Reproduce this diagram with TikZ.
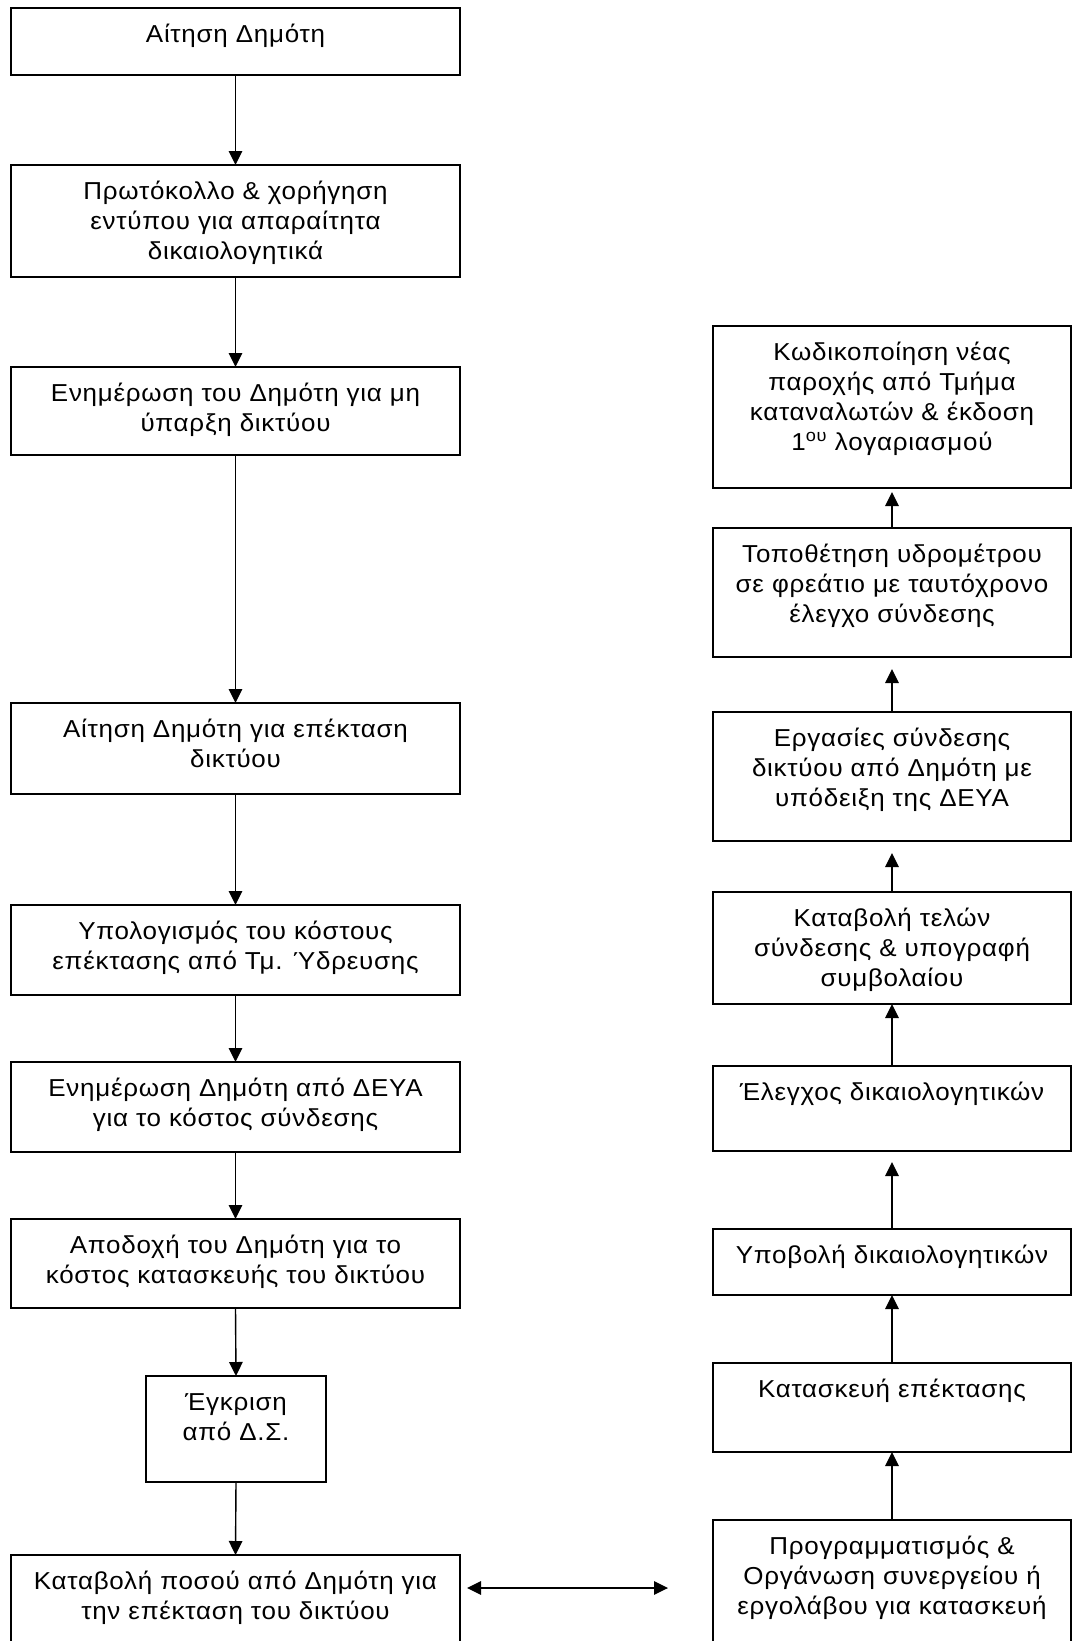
\documentclass[tikz,border=0pt]{standalone}
\usepackage{fontspec}
\setmainfont{Liberation Sans}[FakeStretch=1.06, LetterSpace=3]
\usetikzlibrary{arrows.meta}
\newcommand{\fl}{\rule{0pt}{21pt}}
\newcommand{\mkbox}[6]{%
  \node[boxst, anchor=north west, minimum width=#4pt, minimum height=#5pt] (#1) at (#2,#3) {};
  \node[txtst, anchor=north] (#1t) at ([yshift=-13.4pt]#1.north) {\fl #6};
}
\begin{document}
\begin{tikzpicture}[x=1pt, y=-1pt,
  boxst/.style={draw=black, line width=1.7pt, inner sep=0pt, outer sep=0pt, fill=white},
  txtst/.style={inner sep=0pt, outer sep=0pt, align=center, font=\fontsize{24.5}{30}\selectfont},
  arr/.style={line width=1.4pt, -{Triangle[length=14pt, width=13.5pt]}},
  arrtwo/.style={line width=1.4pt, {Triangle[length=14pt, width=13.5pt]}-{Triangle[length=14pt, width=13.5pt]}}]
\useasboundingbox (0,0) rectangle (1072,1641);
\clip (0,0) rectangle (1072,1641);
\fill[white] (0,0) rectangle (1072,1641);
% left column
\mkbox{b1}{11}{8}{449}{67}{Αίτηση Δημότη}
\mkbox{b2}{11}{165}{449}{112}{Πρωτόκολλο \& χορήγηση\\εντύπου για απαραίτητα\\δικαιολογητικά}
\mkbox{b3}{11}{367}{449}{88}{Ενημέρωση του Δημότη για μη\\ύπαρξη δικτύου}
\mkbox{b4}{11}{703}{449}{91}{Αίτηση Δημότη για επέκταση\\δικτύου}
\mkbox{b5}{11}{905}{449}{90}{Υπολογισμός του κόστους\\επέκτασης από Τμ. Ύδρευσης}
\mkbox{b6}{11}{1062}{449}{90}{Ενημέρωση Δημότη από ΔΕΥΑ\\για το κόστος σύνδεσης}
\mkbox{b7}{11}{1219}{449}{89}{Αποδοχή του Δημότη για το\\κόστος κατασκευής του δικτύου}
\mkbox{b8}{146}{1376}{180}{106}{Έγκριση\\από Δ.Σ.}
\mkbox{b9}{11}{1555}{449}{120}{Καταβολή ποσού από Δημότη για\\την επέκταση του δικτύου}
% right column
\mkbox{r1}{713}{326}{358}{162}{Κωδικοποίηση νέας\\παροχής από Τμήμα\\καταναλωτών \& έκδοση\\1\textsuperscript{ου} λογαριασμού}
\mkbox{r2}{713}{528}{358}{129}{Τοποθέτηση υδρομέτρου\\σε φρεάτιο με ταυτόχρονο\\έλεγχο σύνδεσης}
\mkbox{r3}{713}{712}{358}{129}{Εργασίες σύνδεσης\\δικτύου από Δημότη με\\υπόδειξη της ΔΕΥΑ}
\mkbox{r4}{713}{892}{358}{112}{Καταβολή τελών\\σύνδεσης \& υπογραφή\\συμβολαίου}
\mkbox{r5}{713}{1066}{358}{85}{Έλεγχος δικαιολογητικών}
\mkbox{r6}{713}{1229}{358}{66}{Υποβολή δικαιολογητικών}
\mkbox{r7}{713}{1363}{358}{89}{Κατασκευή επέκτασης}
\mkbox{r8}{713}{1520}{358}{150}{Προγραμματισμός \&\\Οργάνωση συνεργείου ή\\εργολάβου για κατασκευή}
% left arrows
\draw[arr] (b1.south) -- (b2.north);
\draw[arr] (b2.south) -- (b3.north);
\draw[arr] (b3.south) -- (b4.north);
\draw[arr] (b4.south) -- (b5.north);
\draw[arr] (b5.south) -- (b6.north);
\draw[arr] (b6.south) -- (b7.north);
\draw[arr] (b7.south) -- (b8.north);
\draw[arr] (b8.south) -- (b9.north);
% right arrows
\draw[arr] (r8.north) -- (r7.south);
\draw[arr] (r7.north) -- (r6.south);
\draw[arr, shorten >=11pt] (r6.north) -- (r5.south);
\draw[arr] (r5.north) -- (r4.south);
\draw[arr, shorten >=12pt] (r4.north) -- (r3.south);
\draw[arr, shorten >=12pt] (r3.north) -- (r2.south);
\draw[arr, shorten >=4pt] (r2.north) -- (r1.south);
% double arrow
\coordinate (dl) at (467,1588);
\coordinate (dr) at (668,1588);
\draw[arrtwo] (dl) -- (dr);
\end{tikzpicture}
\end{document}
